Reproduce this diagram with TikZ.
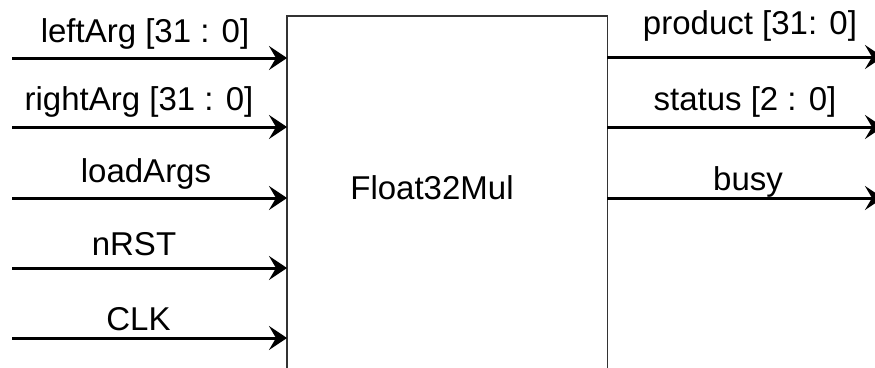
\documentclass[tikz,border=0pt]{standalone}
\usepackage{fontspec}
\setmainfont{Liberation Sans}
\usetikzlibrary{arrows.meta}
\begin{document}
\begin{tikzpicture}[x=1pt,y=-1pt,
  sig/.style={line width=3pt,-{Stealth[length=18pt,width=24pt,inset=7pt]}},
  lbl/.style={font=\fontsize{33}{36}\selectfont,anchor=base,inner sep=0pt},
  boxline/.style={line width=1.2pt,draw=black!80}]
\useasboundingbox (0,0) rectangle (875,367);
\node[name=box,minimum width=320pt,minimum height=380pt,anchor=north west,inner sep=0pt] at (287,16) {};
\draw[boxline] (box.south west) -- (box.north west) -- (box.north east) -- (box.south east);
\node[lbl] (title) at (432,199) {Float32Mul};
% inputs
\coordinate (i1) at (12,58);
\coordinate (i2) at (12,127);
\coordinate (i3) at (12,198);
\coordinate (i4) at (12,268);
\coordinate (i5) at (12,338);
\draw[sig] (i1) -- (i1 -| box.west);
\draw[sig] (i2) -- (i2 -| box.west);
\draw[sig] (i3) -- (i3 -| box.west);
\draw[sig] (i4) -- (i4 -| box.west);
\draw[sig] (i5) -- (i5 -| box.west);
\node[lbl] (l1) at (145,42) {leftArg [31 : 0]};
\node[lbl] (l2) at (139,110) {rightArg [31 : 0]};
\node[lbl] (l3) at (146,182) {loadArgs};
\node[lbl] (l4) at (134,255) {nRST};
\node[lbl] (l5) at (138.5,330) {CLK};
% outputs
\coordinate (o1) at (883,57);
\coordinate (o2) at (883,127);
\coordinate (o3) at (883,198);
\draw[sig] (o1 -| box.east) -- (o1);
\draw[sig] (o2 -| box.east) -- (o2);
\draw[sig] (o3 -| box.east) -- (o3);
\node[lbl] (r1) at (750,34) {product [31: 0]};
\node[lbl] (r2) at (745,110) {status [2 : 0]};
\node[lbl] (r3) at (748,190) {busy};
\end{tikzpicture}
\end{document}
